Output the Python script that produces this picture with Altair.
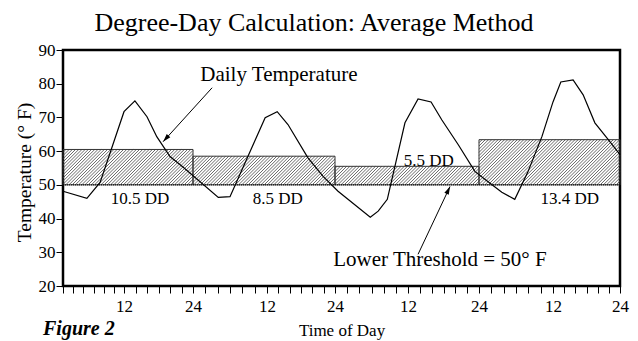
import altair as alt
import numpy as np
import pandas as pd

# ---------------- data ----------------
# hourly temperature trace (hour of the 4-day period, deg F)
HOURS = [0, 4.7, 7.3, 12, 13.9, 16, 17.7, 20, 22.3,
         28.1, 30, 32.9, 35.7, 37.8, 39.7, 43.2, 45.9, 48.5,
         53.8, 55.1, 56.6, 59.5, 61.7, 63.9, 65.7, 68.5, 71.3,
         73, 75.7, 77.8, 79.9, 82.2, 84, 85.4, 87.6, 89.4, 91.5, 93.9, 96]
TEMPS = [48.1, 46.0, 50.7, 71.7, 74.9, 70.2, 64.3, 58.4, 55.2,
         46.3, 46.5, 58.4, 69.9, 71.7, 67.9, 58.1, 52.5, 48.1,
         40.4, 42.2, 45.7, 68.4, 75.5, 74.6, 69.3, 61.9, 54.0,
         51.6, 47.8, 45.7, 53.7, 64.3, 74.6, 80.5, 81.1, 76.7, 68.4, 63.4, 59.0]

DAY_START = [0, 24, 48, 72]
DAY_END = [24, 48, 72, 96]
DAY_AVG = [60.5, 58.5, 55.5, 63.4]
DD_LABELS = ["10.5 DD", "8.5 DD", "5.5 DD", "13.4 DD"]
DD_LABEL_X = [14.8, 37.9, 63.5, 87.0]
DD_LABEL_Y = [45.9, 45.9, 57.2, 45.9]
THRESHOLD = 50

CALLOUT_TEXT = ["Daily Temperature", "Lower Threshold = 50° F"]
CALLOUT_X = [38.1, 65.4]
CALLOUT_Y = [82.6, 27.7]
ARROW_FROM_X = [27.1, 61.7]
ARROW_FROM_Y = [78.8, 29.4]
ARROW_TO_X = [18.8, 67.1]
ARROW_TO_Y = [62.8, 49.5]

TITLE = "Degree-Day Calculation: Average Method"
FIGURE_LABEL = "Figure 2"

# axis: hour positions of the 12/24 labels (drawn irregularly in the original)
X_DOMAIN = [0, 12, 24, 36, 48, 60, 72, 84, 96]
X_RANGE = [0, 61, 130, 204, 272, 345, 416, 490, 557]
X_TICKS = list(range(0, 97, 2))
Y_TICKS = [20, 30, 40, 50, 60, 70, 80, 90]
Y_MIN, Y_MAX = 20, 90
PLOT_W, PLOT_H = 557, 236

FONT = "Liberation Serif"


def hour_to_px(h):
    return np.interp(h, X_DOMAIN, X_RANGE)


def px_to_hour(p):
    return np.interp(p, X_RANGE, X_DOMAIN)


def temp_to_py(t):
    return (Y_MAX - t) / (Y_MAX - Y_MIN) * PLOT_H


def py_to_temp(p):
    return Y_MAX - p / PLOT_H * (Y_MAX - Y_MIN)


# hatch lines ("/" at 45 degrees on screen) clipped to each day's rectangle
SPACING = 3.2
hatch_rows = []
for x0, x1, avg in zip(DAY_START, DAY_END, DAY_AVG):
    px0, px1 = hour_to_px(x0), hour_to_px(x1)
    pyt, pyb = temp_to_py(avg), temp_to_py(THRESHOLD)
    c = np.ceil((px0 + pyt) / SPACING) * SPACING
    while c < px1 + pyb:
        lo = max(px0, c - pyb)
        hi = min(px1, c - pyt)
        if hi > lo:
            hatch_rows.append({
                "hx": float(px_to_hour(lo)), "hy": float(py_to_temp(c - lo)),
                "hx2": float(px_to_hour(hi)), "hy2": float(py_to_temp(c - hi)),
            })
        c += SPACING
hatch = pd.DataFrame(hatch_rows)

curve = pd.DataFrame({"hour": HOURS, "temp": TEMPS})
days = pd.DataFrame({"x0": DAY_START, "x1": DAY_END, "avg": DAY_AVG,
                     "base": [THRESHOLD] * 4})
dd = pd.DataFrame({"x": DD_LABEL_X, "y": DD_LABEL_Y, "label": DD_LABELS})

angles = []
for fx, fy, tx, ty in zip(ARROW_FROM_X, ARROW_FROM_Y, ARROW_TO_X, ARROW_TO_Y):
    dx = hour_to_px(tx) - hour_to_px(fx)
    dy = temp_to_py(ty) - temp_to_py(fy)
    angles.append(float(np.degrees(np.arctan2(dx, -dy)) % 360))
callouts = pd.DataFrame({"text": CALLOUT_TEXT, "tx": CALLOUT_X, "ty": CALLOUT_Y,
                         "fx": ARROW_FROM_X, "fy": ARROW_FROM_Y,
                         "ax": ARROW_TO_X, "ay": ARROW_TO_Y, "angle": angles})
thr = pd.DataFrame({"x0": [X_DOMAIN[0]], "x1": [X_DOMAIN[-1]], "y": [THRESHOLD]})

# ---------------- scales & axes ----------------
xs = alt.Scale(domain=X_DOMAIN, range=X_RANGE, nice=False, zero=False)
ys = alt.Scale(domain=[Y_MIN, Y_MAX], nice=False, zero=False)

x_axis = alt.Axis(
    values=X_TICKS,
    labelExpr="datum.value > 0 && datum.value % 12 == 0 ? (datum.value % 24 == 0 ? '24' : '12') : ''",
    title="Time of Day", grid=False, domain=False,
    tickSize=7, tickColor="black", tickWidth=1,
    labelFont=FONT, labelFontSize=17, labelColor="black", labelPadding=5,
    labelOverlap=False, labelFlush=False,
    titleFont=FONT, titleFontSize=17, titleFontWeight="normal", titleColor="black",
    titleY=49, titleBaseline="alphabetic",
)
y_axis = alt.Axis(
    values=Y_TICKS, title="Temperature (° F)", grid=False, domain=False,
    tickSize=7, tickColor="black", tickWidth=1,
    labelFont=FONT, labelFontSize=17, labelColor="black", labelPadding=1,
    labelFlush=False,
    titleFont=FONT, titleFontSize=19.5, titleFontWeight="normal", titleColor="black",
    titleX=-39, titleY=122, titleAlign="center", titleBaseline="middle",
)


def X(field):
    return alt.X(field, type="quantitative", scale=xs, axis=x_axis)


def Y(field):
    return alt.Y(field, type="quantitative", scale=ys, axis=y_axis)


hatch_layer = alt.Chart(hatch).mark_rule(color="#444444", strokeWidth=0.8).encode(
    x=X("hx"), y=Y("hy"), x2="hx2", y2="hy2")

rect_layer = alt.Chart(days).mark_rect(fillOpacity=0, stroke="#333333", strokeWidth=1).encode(
    x=X("x0"), x2="x1", y=Y("base"), y2="avg")

thr_layer = alt.Chart(thr).mark_rule(color="black", strokeWidth=1, strokeDash=[1, 1]).encode(
    x=X("x0"), x2="x1", y=Y("y"))

curve_layer = alt.Chart(curve).mark_line(color="black", strokeWidth=1.2).encode(
    x=X("hour"), y=Y("temp"))

arrow_line = alt.Chart(callouts).mark_rule(color="black", strokeWidth=1).encode(
    x=X("fx"), y=Y("fy"), x2="ax", y2="ay")

arrow_head = alt.Chart(callouts).mark_point(
    shape="M0,0 L0.3,1 L-0.3,1 Z", filled=True, color="black", size=260, opacity=1
).encode(x=X("ax"), y=Y("ay"), angle=alt.Angle("angle:Q", scale=None))

callout_text = alt.Chart(callouts).mark_text(
    font=FONT, fontSize=21, color="black", align="center", baseline="middle"
).encode(x=X("tx"), y=Y("ty"), text="text:N")

dd_text = alt.Chart(dd).mark_text(
    font=FONT, fontSize=17, color="black", align="center", baseline="middle"
).encode(x=X("x"), y=Y("y"), text="label:N")

title_text = alt.Chart(pd.DataFrame({"t": [TITLE]})).mark_text(
    font=FONT, fontSize=26, color="black", align="center", baseline="alphabetic"
).encode(x=alt.value(251), y=alt.value(-19), text="t:N")

fig_label = alt.Chart(pd.DataFrame({"t": [FIGURE_LABEL]})).mark_text(
    font=FONT, fontSize=20, fontStyle="italic", fontWeight="bold", color="black",
    align="left", baseline="alphabetic"
).encode(x=alt.value(-20), y=alt.value(285), text="t:N")

chart = alt.layer(
    hatch_layer, rect_layer, thr_layer, curve_layer,
    arrow_line, arrow_head, callout_text, dd_text, title_text, fig_label,
).properties(
    width=PLOT_W, height=PLOT_H,
    autosize=alt.AutoSizeParams(type="none"),
    padding={"left": 55, "top": 42, "right": 10, "bottom": 55},
    background="white",
).configure_view(stroke="black", strokeWidth=2.5)

chart.save("out.html", embed_options={"renderer": "svg", "actions": False})
